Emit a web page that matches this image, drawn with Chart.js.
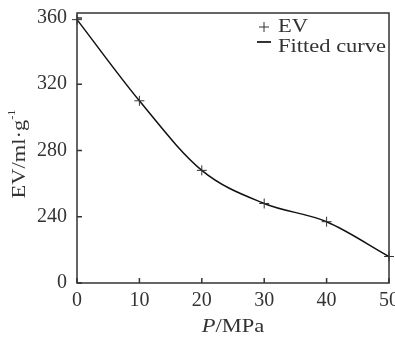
<!DOCTYPE html>
<html>
<head>
<meta charset="utf-8">
<script src="https://cdn.jsdelivr.net/npm/chart.js@4"></script>
<style>
  html, body { margin: 0; padding: 0; background: #fff; }
  #wrap { width: 395px; height: 337px; }
</style>
</head>
<body>
<div id="wrap"><canvas id="evChart" width="395" height="337"></canvas></div>
<script>
// values
const pressure = [0, 10, 20, 30, 40, 50];
const evValues = [359, 310, 268, 248, 237, 216];
const xTicks = [0, 10, 20, 30, 40, 50];
const yTicks = [200, 240, 280, 320, 360];   // 200 is shown as "0" (broken axis)
const yTickLabels = ['0', '240', '280', '320', '360'];

const ink = '#333';
const serif = '"Liberation Serif", "Times New Roman", serif';
const stretch = 1.25;   // the figure's type is set wide

const points = pressure.map((p, i) => ({ x: p, y: evValues[i] }));

// draw a run of [text, font, dy] pieces stretched horizontally, starting at x
function wideText(c, pieces, x, y) {
    c.save();
    c.translate(x, y);
    c.scale(stretch, 1);
    let cx = 0;
    pieces.forEach(([t, f, dy]) => {
        c.font = f;
        c.fillText(t, cx, dy || 0);
        cx += c.measureText(t).width;
    });
    c.restore();
}
function wideWidth(c, pieces) {
    let w = 0;
    pieces.forEach(([t, f]) => { c.font = f; w += c.measureText(t).width; });
    return w * stretch;
}

// box, inward ticks, axis titles and legend
const decor = {
    id: 'decor',
    afterDraw(chart) {
        const c = chart.ctx, a = chart.chartArea;
        const xs = chart.scales.x, ys = chart.scales.y;
        c.save();
        c.strokeStyle = ink;
        c.lineWidth = 1.5;
        c.strokeRect(a.left, a.top, a.right - a.left, a.bottom - a.top);
        c.beginPath();
        xTicks.forEach(v => {
            const px = xs.getPixelForValue(v);
            c.moveTo(px, a.bottom); c.lineTo(px, a.bottom - 5);
        });
        yTicks.forEach(v => {
            const py = ys.getPixelForValue(v);
            c.moveTo(a.left, py); c.lineTo(a.left + 5, py);
        });
        c.stroke();

        c.fillStyle = ink;
        c.textBaseline = 'middle';
        c.textAlign = 'left';

        // x title: P/MPa with italic P
        const xt = [['P', 'italic 18px ' + serif], ['/MPa', '18px ' + serif]];
        wideText(c, xt, (a.left + a.right) / 2 - wideWidth(c, xt) / 2, 327);

        // y title: EV/ml·g^-1
        const yt = [['EV/ml·g', '18px ' + serif], ['-1', '10px ' + serif, -8]];
        c.save();
        c.translate(20, 154);
        c.rotate(-Math.PI / 2);
        wideText(c, yt, -wideWidth(c, yt) / 2, 0);
        c.restore();

        // legend inside top right
        const lx = 264;
        c.lineWidth = 1;
        c.beginPath();
        c.moveTo(lx - 5, 27); c.lineTo(lx + 5, 27);
        c.moveTo(lx, 22); c.lineTo(lx, 32);
        c.stroke();
        wideText(c, [[chart.data.datasets[0].label, '18px ' + serif]], 278, 27);
        c.lineWidth = 2;
        c.beginPath();
        c.moveTo(lx - 7, 42); c.lineTo(lx + 7, 42);
        c.stroke();
        wideText(c, [[chart.data.datasets[1].label, '18px ' + serif]], 278, 47);
        c.restore();
    }
};

new Chart(document.getElementById('evChart'), {
    type: 'scatter',
    data: {
        datasets: [{
            label: 'EV',
            data: points,
            showLine: false,
            pointStyle: 'cross',
            pointRadius: 5,
            pointBorderWidth: 1,
            borderColor: ink,
            backgroundColor: ink,
            clip: false
        }, {
            label: 'Fitted curve',
            data: points,
            showLine: true,
            pointRadius: 0,
            borderColor: '#111',
            borderWidth: 1.5,
            cubicInterpolationMode: 'monotone',
            fill: false
        }]
    },
    options: {
        responsive: false,
        animation: false,
        layout: { padding: { top: 13, right: 2, bottom: 0, left: 0 } },
        plugins: { legend: { display: false }, tooltip: { enabled: false } },
        scales: {
            x: {
                type: 'linear', min: 0, max: 50,
                afterBuildTicks: s => { s.ticks = xTicks.map(v => ({ value: v })); },
                afterFit: s => { s.height = 54; s.paddingLeft = 0; s.paddingRight = 0; },
                grid: { display: false, drawTicks: false },
                border: { display: false },
                ticks: { color: ink, padding: 6, maxRotation: 0, font: { family: serif, size: 20 } }
            },
            y: {
                min: 200, max: 363,
                afterBuildTicks: s => { s.ticks = yTicks.map(v => ({ value: v })); },
                afterFit: s => { s.width = 77; s.paddingTop = 0; s.paddingBottom = 0; },
                grid: { display: false, drawTicks: false },
                border: { display: false },
                ticks: {
                    color: ink, padding: 10, font: { family: serif, size: 20 },
                    callback: v => yTickLabels[yTicks.indexOf(v)]
                }
            }
        }
    },
    plugins: [decor]
});
</script>
</body>
</html>
